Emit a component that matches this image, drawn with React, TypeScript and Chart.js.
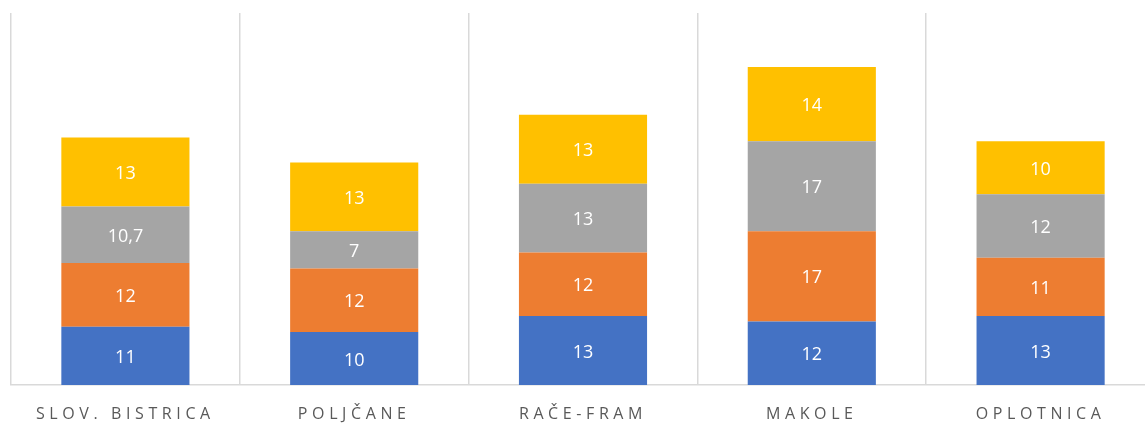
import React, { useEffect, useRef } from "react";
import { Chart, registerables } from "chart.js";

Chart.register(...registerables);

const categories = ["SLOV. BISTRICA", "POLJČANE", "RAČE-FRAM", "MAKOLE", "OPLOTNICA"];
const series1 = [11, 10, 13, 12, 13];
const series2 = [12, 12, 12, 17, 11];
const series3 = [10.7, 7, 13, 17, 12];
const series4 = [13, 13, 13, 14, 10];
const colors = ["#4472C4", "#ED7D31", "#A5A5A5", "#FFC000"];

const fmt = (v: number) => String(v).replace(".", ",");

const labelPlugin = {
  id: "segLabels",
  afterDatasetsDraw(chart: any) {
    const ctx = chart.ctx;
    ctx.save();
    ctx.letterSpacing = "0px";
    ctx.fillStyle = "#FFFFFF";
    ctx.font = "18px 'Open Sans', sans-serif";
    ctx.textAlign = "center";
    ctx.textBaseline = "middle";
    chart.data.datasets.forEach((ds: any, i: number) => {
      const meta = chart.getDatasetMeta(i);
      meta.data.forEach((bar: any, j: number) => {
        const y = (bar.y + bar.base) / 2 + 2;
        ctx.fillText(fmt(ds.data[j]), bar.x, y);
      });
    });
    ctx.restore();
  },
};

const spacingPlugin = {
  id: "spacing",
  beforeDraw(chart: any) {
    chart.ctx.letterSpacing = "4.6px";
  },
  beforeDatasetsDraw(chart: any) {
    chart.ctx.letterSpacing = "0px";
  },
};

export default function App() {
  const ref = useRef<HTMLCanvasElement>(null);
  useEffect(() => {
    document.body.style.margin = "0";
    const chart = new Chart(ref.current!, {
      type: "bar",
      data: {
        labels: categories,
        datasets: [series1, series2, series3, series4].map((d, i) => ({
          label: "S" + (i + 1),
          data: d,
          backgroundColor: colors[i],
          borderWidth: 0,
          barPercentage: 0.56,
          categoryPercentage: 1,
        })),
      },
      options: {
        responsive: false,
        animation: false,
        layout: { padding: { left: 11, right: 5, top: 13, bottom: 0 } },
        plugins: { legend: { display: false }, tooltip: { enabled: false } },
        scales: {
          x: {
            stacked: true,
            offset: true,
            grid: { offset: true, color: "#D9D9D9", lineWidth: 1.5, drawTicks: false },
            border: { color: "#D9D9D9", width: 1.5 },
            ticks: {
              color: "#595959",
              font: { family: "'Open Sans', sans-serif", size: 16 },
              padding: 20,
              maxRotation: 0,
            },
            afterFit(scale: any) {
              scale.height = 38;
            },
          },
          y: {
            stacked: true,
            display: false,
            min: 0,
            max: 70.2,
          },
        },
      },
      plugins: [spacingPlugin, labelPlugin],
    });
    return () => chart.destroy();
  }, []);
  return (
    <div style={{ width: 1145, height: 423, overflow: "hidden" }}>
      <canvas ref={ref} width={1160} height={423} style={{ display: "block" }} />
    </div>
  );
}
